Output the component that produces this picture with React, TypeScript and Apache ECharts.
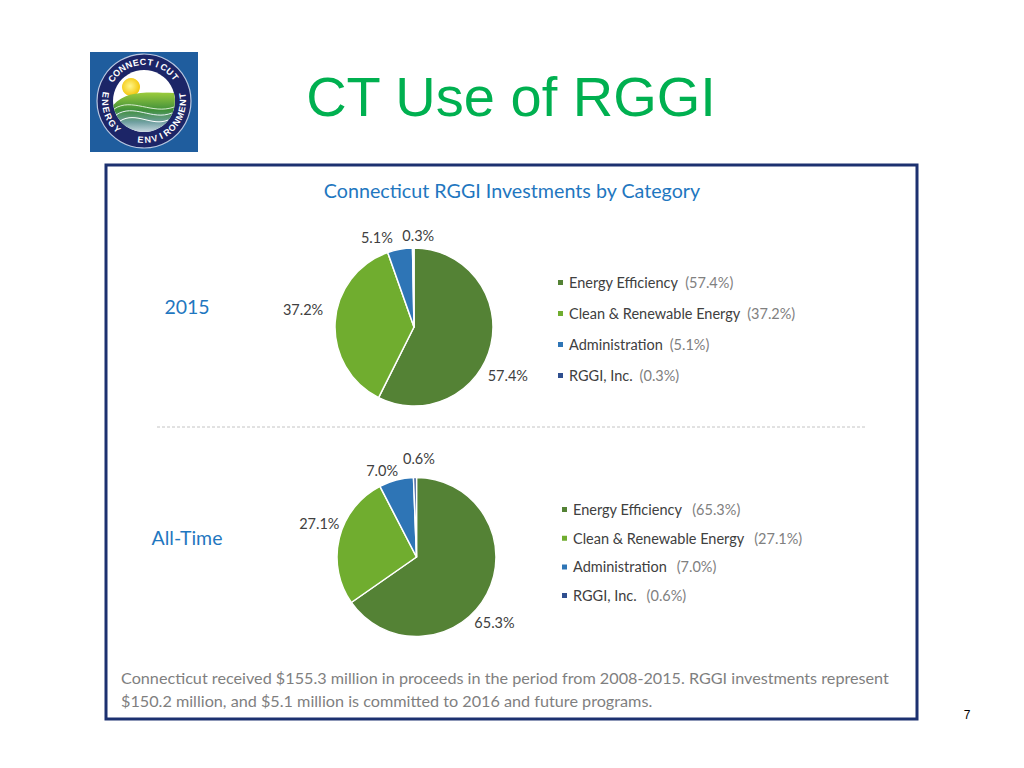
import React, { useEffect, useRef } from 'react';
import * as echarts from 'echarts';

// ---- data ----
const categories = ['Energy Efficiency', 'Clean & Renewable Energy', 'Administration', 'RGGI, Inc.'];
const share2015 = [57.4, 37.2, 5.1, 0.3];
const shareAllTime = [65.3, 27.1, 7.0, 0.6];
const rowLabels = ['2015', 'All-Time'];
const pageTitle = 'CT Use of RGGI';
const panelTitle = 'Connecticut RGGI Investments by Category';
const footerLines = [
  'Connecticut received $155.3 million in proceeds in the period from 2008-2015. RGGI investments represent',
  '$150.2 million, and $5.1 million is committed to 2016 and future programs.',
];
const pageNumber = '7';
const sealTop = 'CONNECTICUT';
const sealLeft = 'ENERGY';
const sealBottom = 'ENVIRONMENT';

// ---- styles ----
const sliceColors = ['#548235', '#70ad2f', '#2e75b6', '#2f4f8f'];
const FONT = 'Lato, "Open Sans", sans-serif';

let shapesRegistered = false;
function registerShapes() {
  if (shapesRegistered) return;
  shapesRegistered = true;
  echarts.graphic.registerShape(
    'sealHills',
    echarts.graphic.extendPath('M -30.74 4 C -18 -10 0 -9 29.95 -8 A 31 31 0 1 1 -30.74 4 Z', {})
  );
}

function arcLetters(text: string, cx: number, cy: number, r: number, a0: number, a1: number, outward: boolean) {
  const n = text.length;
  const out: any[] = [];
  for (let i = 0; i < n; i++) {
    const t = a0 + ((a1 - a0) * i) / (n - 1);
    const rad = (t * Math.PI) / 180;
    const rot = outward ? -(t + 90) : 90 - t;
    out.push({
      type: 'text',
      x: cx + r * Math.cos(rad),
      y: cy + r * Math.sin(rad),
      rotation: (rot * Math.PI) / 180,
      silent: true,
      style: {
        text: text[i],
        fill: '#ffffff',
        font: 'bold 9px "Liberation Sans", sans-serif',
        align: 'center',
        verticalAlign: 'middle',
      },
    });
  }
  return out;
}

function buildSeal() {
  const cx = 144;
  const cy = 101;
  const els: any[] = [
    { type: 'rect', shape: { x: 90, y: 52, width: 108, height: 100 }, style: { fill: '#1f5d9e' } },
    { type: 'circle', shape: { cx, cy, r: 47 }, style: { fill: '#1c2567', stroke: '#b9c7e0', lineWidth: 1.2 } },
    { type: 'circle', shape: { cx, cy, r: 31 }, style: { fill: '#ffffff' } },
    {
      type: 'circle',
      shape: { cx: cx - 13, cy: cy - 14, r: 9 },
      style: {
        fill: new echarts.graphic.RadialGradient(0.45, 0.45, 0.6, [
          { offset: 0, color: '#fff68a' },
          { offset: 1, color: '#f2c200' },
        ]),
      },
    },
    {
      type: 'sealHills',
      x: cx,
      y: cy,
      style: {
        fill: new echarts.graphic.LinearGradient(0, 0, 0, 1, [
          { offset: 0, color: '#9ccc3c' },
          { offset: 0.45, color: '#3f8f3a' },
          { offset: 0.75, color: '#6f9fa0' },
          { offset: 1, color: '#c8d8e0' },
        ]),
      },
    },
    {
      type: 'bezierCurve',
      shape: { x1: cx - 30, y1: cy + 8, x2: cx + 30, y2: cy + 6, cpx1: cx - 12, cpy1: cy - 4, cpx2: cx + 8, cpy2: cy + 14 },
      style: { stroke: '#d8ecd0', lineWidth: 1, fill: null },
    },
    {
      type: 'bezierCurve',
      shape: { x1: cx - 28, y1: cy + 14, x2: cx + 28, y2: cy + 12, cpx1: cx - 10, cpy1: cy + 2, cpx2: cx + 8, cpy2: cy + 20 },
      style: { stroke: '#e8f2f4', lineWidth: 1, fill: null },
    },
    {
      type: 'bezierCurve',
      shape: { x1: cx - 24, y1: cy + 20, x2: cx + 24, y2: cy + 19, cpx1: cx - 8, cpy1: cy + 10, cpx2: cx + 8, cpy2: cy + 26 },
      style: { stroke: '#ffffff', lineWidth: 1, fill: null },
    },
    ...arcLetters(sealTop, cx, cy, 39, -145, -38, true),
    ...arcLetters(sealLeft, cx, cy, 39, 189, 134, false),
    ...arcLetters(sealBottom, cx, cy, 39, 95, -8, false),
  ];
  return { type: 'group', children: els, silent: true };
}

function pct(v: number) {
  return v.toFixed(1) + '%';
}

function pieSeries(values: number[], center: number[], radius: number, offsets: number[][]) {
  return {
    type: 'pie',
    center,
    radius,
    startAngle: 90,
    clockwise: true,
    silent: true,
    data: categories.map((name, i) => ({ name, value: values[i] })),
    itemStyle: { borderColor: '#ffffff', borderWidth: 1.5 },
    label: {
      show: true,
      position: 'outside',
      formatter: (p: any) => pct(p.value),
      fontSize: 14.5,
      color: '#404040',
      fontFamily: FONT,
    },
    labelLine: { show: false, length: 6, length2: 0 },
    labelLayout: (p: any) => ({ dx: offsets[p.dataIndex][0], dy: offsets[p.dataIndex][1], hideOverlap: false }),
    emphasis: { disabled: true },
  };
}

function legendFor(values: number[], left: number, top: number, gap: number, pad: number) {
  return {
    orient: 'vertical',
    left,
    top,
    padding: 0,
    icon: 'rect',
    itemWidth: 7,
    itemHeight: 7,
    itemGap: gap,
    selectedMode: false,
    data: categories,
    formatter: (name: string) => `{n|${name}}{p|(${pct(values[categories.indexOf(name)])})}`,
    textStyle: {
      rich: {
        n: { fontSize: 14.5, color: '#404040', fontFamily: FONT, lineHeight: 16 },
        p: { fontSize: 14.5, color: '#808080', fontFamily: FONT, lineHeight: 16, padding: [0, 0, 0, pad] },
      },
    },
  };
}

export default function App() {
  const ref = useRef<HTMLDivElement>(null);
  useEffect(() => {
    if (!ref.current) return;
    registerShapes();
    const chart = echarts.init(ref.current, undefined, { renderer: 'svg' });
    chart.setOption({
      animation: false,
      backgroundColor: '#ffffff',
      color: sliceColors,
      legend: [legendFor(share2015, 556, 275, 16, 7), legendFor(shareAllTime, 560, 502, 13.7, 10)],
      graphic: [
        buildSeal(),
        {
          type: 'text',
          x: 511,
          y: 96,
          silent: true,
          style: { text: pageTitle, fill: '#00b050', font: '56px "Liberation Sans", Arial, sans-serif', align: 'center', verticalAlign: 'middle' },
        },
        {
          type: 'rect',
          z: -10,
          shape: { x: 106, y: 165, width: 811, height: 554 },
          style: { fill: '#ffffff', stroke: '#1c3170', lineWidth: 3 },
        },
        {
          type: 'text',
          x: 512,
          y: 190,
          silent: true,
          style: { text: panelTitle, fill: '#1f77c0', font: `19.7px ${FONT}`, align: 'center', verticalAlign: 'middle' },
        },
        {
          type: 'line',
          shape: { x1: 157, y1: 427, x2: 866, y2: 427 },
          style: { stroke: '#c4c4c4', lineWidth: 1, lineDash: [3, 2] },
        },
        {
          type: 'text',
          x: 187,
          y: 306,
          style: { text: rowLabels[0], fill: '#1f77c0', font: `19.5px ${FONT}`, align: 'center', verticalAlign: 'middle' },
        },
        {
          type: 'text',
          x: 187,
          y: 537,
          style: { text: rowLabels[1], fill: '#1f77c0', font: `19.5px ${FONT}`, align: 'center', verticalAlign: 'middle' },
        },
        {
          type: 'text',
          x: 121,
          y: 677,
          style: { text: footerLines[0], fill: '#7f7f7f', font: `16.2px ${FONT}`, align: 'left', verticalAlign: 'middle' },
        },
        {
          type: 'text',
          x: 121,
          y: 700,
          style: { text: footerLines[1], fill: '#7f7f7f', font: `16.2px ${FONT}`, align: 'left', verticalAlign: 'middle' },
        },
        {
          type: 'text',
          x: 967,
          y: 715,
          style: { text: pageNumber, fill: '#000000', font: '12px "Liberation Sans", Arial, sans-serif', align: 'center', verticalAlign: 'middle' },
        },
      ],
      series: [
        pieSeries(share2015, [414, 327], 79, [[-14, 29], [-6, -12], [30, -22], [26, -7]]),
        pieSeries(shareAllTime, [416.5, 557], 79.5, [[-23, 26], [6, -13], [33, -18], [25, -13]]),
      ],
    });
    return () => chart.dispose();
  }, []);
  return <div ref={ref} style={{ position: 'absolute', left: 0, top: 0, width: 1024, height: 768 }} />;
}
